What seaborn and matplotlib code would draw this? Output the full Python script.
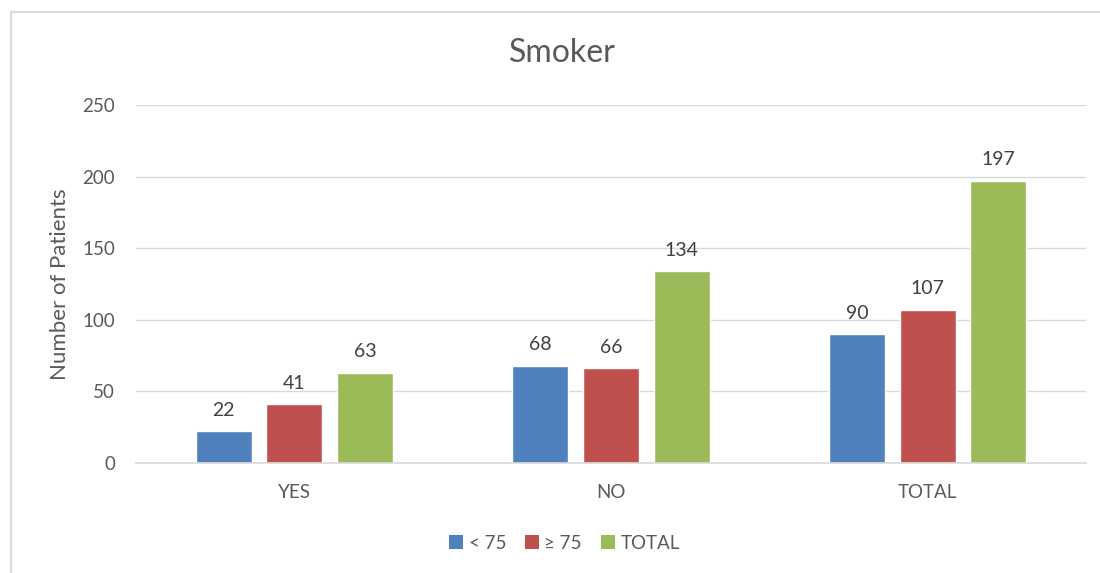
import matplotlib
matplotlib.use("Agg")
import matplotlib.pyplot as plt
import seaborn as sns
import pandas as pd
from matplotlib.lines import Line2D
from matplotlib.patches import Patch

categories = ["YES", "NO", "TOTAL"]
series_names = ["< 75", "\u2265 75", "TOTAL"]
under_75 = [22, 68, 90]
over_75 = [41, 66, 107]
totals = [63, 134, 197]
y_ticks = [0, 50, 100, 150, 200, 250]

colors = ["#4F81BD", "#C0504D", "#9BBB59"]
text_color = "#595959"

sns.set_theme(style="white")
plt.rcParams["font.family"] = ["Lato", "DejaVu Sans"]

rows = []
for name, vals in zip(series_names, [under_75, over_75, totals]):
    for cat, v in zip(categories, vals):
        rows.append({"group": cat, "series": name, "value": v})
df = pd.DataFrame(rows)

fig = plt.figure(figsize=(11, 5.73), dpi=100)
ax = fig.add_axes([0.1236, 0.192, 0.8636, 0.6248])

sns.barplot(data=df, x="group", y="value", hue="series", order=categories,
            hue_order=series_names, palette=colors, width=0.67, gap=0.21,
            saturation=1, ax=ax, legend=False)

ax.set_ylim(0, 250)
ax.set_yticks(y_ticks)
ax.set_xlim(-0.5, 2.5)
ax.yaxis.grid(True, color="#D9D9D9", linewidth=1)
ax.set_axisbelow(True)
for s in ["top", "right", "left"]:
    ax.spines[s].set_visible(False)
ax.spines["bottom"].set_color("#D9D9D9")
ax.spines["bottom"].set_linewidth(1.2)
ax.tick_params(axis="both", length=0, colors=text_color, labelsize=13.5)
ax.tick_params(axis="y", pad=15)
ax.tick_params(axis="x", pad=15)
ax.set_xlabel("")
ax.set_ylabel("Number of Patients", fontsize=16, color=text_color, labelpad=9)

for cont in ax.containers:
    ax.bar_label(cont, labels=[f"{int(v)}" for v in cont.datavalues],
                 padding=9, fontsize=14, color="#404040")

fig.text(0.511, 0.908, "Smoker", ha="center", va="center", fontsize=23,
         color=text_color)

handles = [Patch(facecolor=c, edgecolor="none") for c in colors]
fig.legend(handles, series_names, loc="center", bbox_to_anchor=(0.513, 0.052),
           ncol=3, frameon=False, fontsize=13.5, handlelength=0.75,
           handleheight=0.75, handletextpad=0.3, columnspacing=1.0,
           labelcolor=text_color)

# chart frame
fig.add_artist(Line2D([0.01, 0.01], [0.0, 0.979], transform=fig.transFigure,
                      color="#D9D9D9", linewidth=1.5))
fig.add_artist(Line2D([0.01, 1.0], [0.979, 0.979], transform=fig.transFigure,
                      color="#D9D9D9", linewidth=1.5))

fig.savefig("out.png", dpi=100, facecolor="white")
